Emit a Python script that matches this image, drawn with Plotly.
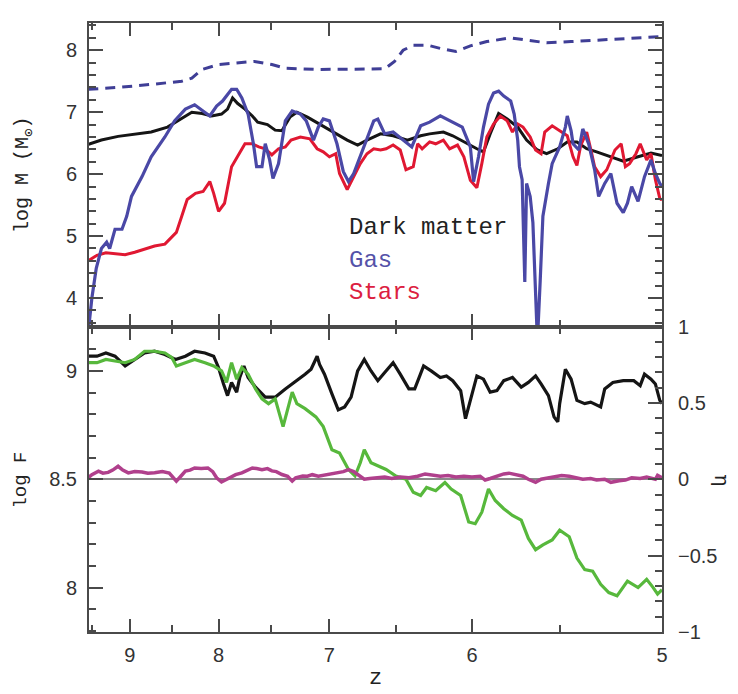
import plotly.graph_objects as go

# ---------------- data (redshift z, values) ----------------
# Upper panel: log of the enclosed mass
dm_z = [9.55, 9.37, 9.15, 8.94, 8.74, 8.55, 8.43, 8.28, 8.17, 8.07, 7.97, 7.91, 7.86, 7.81, 7.74,
        7.67, 7.62, 7.53, 7.46, 7.40, 7.33, 7.27, 7.18, 7.08, 6.97, 6.86, 6.78, 6.71, 6.61, 6.52,
        6.42, 6.33, 6.27, 6.18, 6.12, 6.03, 5.97, 5.93, 5.89, 5.84, 5.79, 5.73, 5.68, 5.62, 5.57,
        5.51, 5.46, 5.41, 5.36, 5.31, 5.24, 5.18, 5.11, 5.05, 5.00]
dm_logm = [6.48, 6.55, 6.61, 6.64, 6.68, 6.76, 6.86, 7.00, 6.98, 6.94, 6.97, 7.05, 7.23, 7.14, 7.05,
           6.94, 6.84, 6.80, 6.71, 6.70, 6.92, 7.00, 6.92, 6.81, 6.68, 6.55, 6.47, 6.55, 6.65, 6.62,
           6.55, 6.62, 6.65, 6.68, 6.62, 6.49, 6.41, 6.36, 6.65, 6.98, 6.89, 6.76, 6.55, 6.39, 6.33,
           6.41, 6.52, 6.52, 6.41, 6.36, 6.28, 6.21, 6.28, 6.34, 6.30]

gas_z = [9.56, 9.55, 9.50, 9.44, 9.37, 9.30, 9.26, 9.19, 9.10, 9.04, 8.98, 8.85, 8.74, 8.58, 8.47,
         8.35, 8.25, 8.16, 8.09, 8.02, 7.96, 7.87, 7.82, 7.77, 7.71, 7.66, 7.63, 7.58, 7.55, 7.51,
         7.48, 7.43, 7.37, 7.31, 7.24, 7.19, 7.13, 7.09, 7.05, 7.00, 6.94, 6.89, 6.85, 6.81, 6.76,
         6.71, 6.66, 6.63, 6.58, 6.52, 6.45, 6.39, 6.33, 6.27, 6.20, 6.14, 6.06, 6.01, 5.99, 5.96,
         5.93, 5.90, 5.87, 5.84, 5.81, 5.77, 5.75, 5.73, 5.72, 5.705, 5.69, 5.68, 5.66, 5.645, 5.63,
         5.62, 5.605, 5.59, 5.56, 5.54, 5.50, 5.47, 5.46, 5.44, 5.43, 5.40, 5.38, 5.35, 5.32, 5.30,
         5.27, 5.24, 5.21, 5.18, 5.16, 5.14, 5.11, 5.08, 5.05, 5.03, 5.01, 5.00]
gas_logm = [3.30, 3.45, 4.00, 4.48, 4.80, 4.90, 4.80, 5.11, 5.11, 5.32, 5.64, 5.96, 6.28, 6.60, 6.86,
            7.05, 7.12, 7.02, 6.94, 7.10, 7.18, 7.37, 7.37, 7.23, 6.97, 6.49, 6.12, 6.12, 6.49, 6.23,
            5.93, 6.17, 6.86, 7.02, 6.97, 6.86, 6.55, 6.76, 6.89, 6.86, 6.49, 6.04, 5.88, 6.01, 6.28,
            6.55, 6.86, 6.89, 6.65, 6.68, 6.55, 6.44, 6.78, 6.84, 6.94, 6.86, 6.76, 6.44, 5.88, 6.28,
            6.76, 7.13, 7.31, 7.34, 7.26, 7.18, 6.97, 6.55, 6.12, 5.91, 4.26, 5.85, 5.64, 5.22, 4.05,
            3.30, 4.26, 5.32, 5.85, 6.17, 6.44, 6.76, 6.94, 6.70, 6.49, 6.39, 6.73, 6.49, 6.07, 5.64,
            5.85, 6.01, 5.53, 5.38, 5.53, 5.80, 5.56, 5.96, 6.23, 6.01, 5.85, 5.80]

gas_out_z = [9.55, 9.15, 8.73, 8.39, 8.28, 8.17, 8.00, 7.84, 7.65, 7.49, 7.37, 7.08, 6.69, 6.58,
             6.51, 6.45, 6.38, 6.28, 6.20, 6.10, 6.01, 5.91, 5.77, 5.66, 5.57, 5.44, 5.27, 5.11, 5.00]
gas_out_logm = [7.37, 7.40, 7.45, 7.50, 7.55, 7.69, 7.77, 7.79, 7.82, 7.77, 7.71, 7.69, 7.69, 7.70,
                7.82, 8.00, 8.08, 8.08, 8.03, 7.98, 8.07, 8.14, 8.20, 8.15, 8.12, 8.14, 8.17, 8.20, 8.22]

star_z = [9.55, 9.43, 9.31, 9.19, 9.06, 8.94, 8.82, 8.70, 8.58, 8.50, 8.45, 8.39, 8.33, 8.24, 8.16,
          8.09, 8.05, 8.00, 7.94, 7.87, 7.80, 7.74, 7.67, 7.61, 7.55, 7.49, 7.43, 7.37, 7.32, 7.24,
          7.16, 7.10, 7.05, 7.00, 6.95, 6.92, 6.86, 6.81, 6.76, 6.71, 6.66, 6.61, 6.57, 6.52, 6.47,
          6.43, 6.38, 6.35, 6.32, 6.27, 6.23, 6.18, 6.14, 6.09, 6.05, 6.01, 5.97, 5.94, 5.91, 5.87,
          5.83, 5.79, 5.76, 5.73, 5.70, 5.66, 5.63, 5.60, 5.58, 5.54, 5.50, 5.46, 5.43, 5.41, 5.39,
          5.36, 5.34, 5.32, 5.29, 5.26, 5.22, 5.19, 5.17, 5.15, 5.12, 5.10, 5.07, 5.05, 5.03, 5.01, 5.00]
star_logm = [4.60, 4.69, 4.73, 4.71, 4.70, 4.74, 4.79, 4.84, 4.87, 4.98, 5.06, 5.32, 5.59, 5.69, 5.72,
             5.88, 5.69, 5.40, 5.53, 6.12, 6.33, 6.49, 6.49, 6.44, 6.41, 6.31, 6.41, 6.44, 6.55, 6.60,
             6.57, 6.41, 6.36, 6.28, 6.33, 6.01, 5.75, 5.96, 6.17, 6.33, 6.41, 6.39, 6.41, 6.47, 6.39,
             6.07, 6.12, 6.49, 6.41, 6.52, 6.49, 6.55, 6.41, 6.47, 6.28, 5.90, 5.78, 6.17, 6.60, 6.81,
             6.94, 6.86, 6.68, 6.81, 6.76, 6.60, 6.39, 6.33, 6.68, 6.78, 6.70, 6.62, 6.28, 6.14, 6.47,
             6.68, 6.41, 6.12, 5.96, 6.07, 6.39, 6.49, 6.12, 6.17, 6.33, 6.49, 6.23, 6.33, 5.91, 5.61, 5.58]

# Lower panel: log F (left axis) and eta (right axis)
f1_z = [9.55, 9.43, 9.31, 9.19, 9.06, 8.94, 8.82, 8.70, 8.58, 8.46, 8.35, 8.25, 8.14, 8.05, 8.00,
        7.95, 7.91, 7.87, 7.82, 7.79, 7.75, 7.71, 7.64, 7.55, 7.46, 7.37, 7.29, 7.20, 7.15, 7.10,
        7.08, 7.04, 6.98, 6.93, 6.88, 6.83, 6.78, 6.73, 6.68, 6.63, 6.58, 6.52, 6.47, 6.41, 6.37,
        6.31, 6.26, 6.20, 6.16, 6.12, 6.07, 6.04, 6.01, 5.97, 5.93, 5.89, 5.85, 5.81, 5.76, 5.71,
        5.67, 5.63, 5.60, 5.56, 5.53, 5.51, 5.50, 5.47, 5.44, 5.41, 5.37, 5.34, 5.29, 5.27, 5.23,
        5.18, 5.13, 5.10, 5.08, 5.05, 5.03, 5.01, 5.00]
f1_logf = [9.068, 9.068, 9.083, 9.068, 9.023, 9.053, 9.083, 9.091, 9.076, 9.053, 9.068, 9.091, 9.083,
           9.068, 9.015, 8.940, 8.886, 8.947, 8.902, 8.970, 9.023, 8.970, 8.925, 8.879, 8.879, 8.917,
           8.947, 8.985, 9.008, 9.068, 9.030, 8.985, 8.894, 8.820, 8.834, 8.879, 9.000, 9.053, 9.000,
           8.955, 8.993, 9.038, 8.985, 8.917, 8.917, 9.023, 9.000, 8.970, 8.977, 8.955, 8.909, 8.780,
           8.864, 8.977, 8.962, 8.902, 8.909, 8.955, 8.970, 8.925, 8.947, 8.977, 8.940, 8.886, 8.788,
           8.765, 8.849, 9.008, 8.962, 8.864, 8.849, 8.856, 8.834, 8.917, 8.947, 8.955, 8.955, 8.932,
           8.985, 8.962, 8.940, 8.864, 8.850]

f2_z = [9.55, 9.43, 9.31, 9.19, 9.06, 8.94, 8.82, 8.70, 8.58, 8.50, 8.45, 8.35, 8.25, 8.14, 8.05,
        7.97, 7.92, 7.87, 7.82, 7.77, 7.71, 7.64, 7.58, 7.52, 7.46, 7.39, 7.34, 7.31, 7.27, 7.20,
        7.11, 7.05, 6.98, 6.92, 6.85, 6.80, 6.76, 6.73, 6.68, 6.63, 6.57, 6.50, 6.43, 6.38, 6.33,
        6.29, 6.23, 6.17, 6.13, 6.07, 6.02, 5.98, 5.94, 5.90, 5.86, 5.81, 5.76, 5.71, 5.67, 5.63,
        5.59, 5.54, 5.50, 5.45, 5.41, 5.37, 5.33, 5.29, 5.25, 5.21, 5.16, 5.11, 5.07, 5.04, 5.02, 5.00]
f2_logf = [9.038, 9.038, 9.053, 9.045, 9.038, 9.053, 9.091, 9.091, 9.083, 9.061, 9.023, 9.038, 9.053,
           9.038, 9.023, 9.000, 8.947, 9.038, 8.962, 9.015, 8.985, 8.917, 8.871, 8.849, 8.871, 8.743,
           8.834, 8.902, 8.849, 8.826, 8.788, 8.743, 8.636, 8.621, 8.545, 8.515, 8.576, 8.636, 8.576,
           8.561, 8.545, 8.515, 8.500, 8.440, 8.425, 8.462, 8.447, 8.485, 8.455, 8.425, 8.303, 8.295,
           8.348, 8.455, 8.402, 8.364, 8.333, 8.311, 8.227, 8.175, 8.197, 8.220, 8.265, 8.235, 8.136,
           8.083, 8.076, 8.015, 7.977, 7.962, 8.030, 8.000, 8.038, 8.000, 7.970, 7.990]

eta_z = [9.55, 9.50, 9.41, 9.35, 9.28, 9.22, 9.15, 9.09, 9.02, 8.94, 8.85, 8.78, 8.70, 8.61, 8.53,
         8.45, 8.40, 8.35, 8.30, 8.25, 8.18, 8.11, 8.06, 8.02, 7.97, 7.93, 7.87, 7.83, 7.77, 7.72,
         7.67, 7.63, 7.58, 7.53, 7.49, 7.45, 7.40, 7.35, 7.31, 7.28, 7.22, 7.18, 7.14, 7.09, 7.05,
         7.01, 6.97, 6.93, 6.89, 6.85, 6.81, 6.78, 6.73, 6.69, 6.63, 6.58, 6.53, 6.47, 6.41, 6.35,
         6.30, 6.25, 6.20, 6.15, 6.10, 6.05, 6.00, 5.95, 5.92, 5.89, 5.85, 5.81, 5.78, 5.74, 5.70,
         5.67, 5.63, 5.60, 5.56, 5.52, 5.49, 5.45, 5.41, 5.38, 5.34, 5.31, 5.27, 5.24, 5.20, 5.17,
         5.14, 5.10, 5.07, 5.03, 5.02, 5.00]
eta_val = [0.010, 0.030, 0.053, 0.040, 0.045, 0.060, 0.085, 0.060, 0.042, 0.050, 0.048, 0.040, 0.042,
           0.050, 0.040, -0.012, 0.020, 0.053, 0.060, 0.074, 0.070, 0.074, 0.050, 0.010, -0.018, -0.005,
           0.016, 0.030, 0.042, 0.060, 0.074, 0.070, 0.063, 0.070, 0.055, 0.050, 0.031, 0.020, -0.012,
           0.010, 0.021, 0.020, 0.030, 0.020, 0.025, 0.030, 0.035, 0.042, 0.050, 0.063, 0.050, 0.031,
           0.000, 0.005, 0.010, 0.015, 0.005, 0.015, 0.010, 0.020, 0.035, 0.025, 0.020, 0.025, 0.015,
           0.020, 0.015, 0.020, -0.005, 0.005, 0.020, 0.035, 0.040, 0.030, 0.020, 0.000, -0.020, 0.000,
           0.010, 0.020, 0.025, 0.020, 0.010, 0.000, 0.005, -0.005, 0.000, -0.020, -0.010, -0.005,
           0.010, 0.005, 0.015, 0.000, 0.025, 0.010]

# Axis tick labels
z_major = [9, 8, 7, 6, 5]
z_minor = [9.5, 8.5, 7.5, 6.5, 5.5]
z_left, z_right = 9.54, 5.0


def scale_factor(zs):
    """The horizontal axis is linear in the expansion factor a = 1/(1+z)."""
    return [1.0 / (1.0 + z) for z in zs]


C_DM = "#151515"
C_GAS = "#4a48a6"
C_GAS_OUT = "#3f3e96"
C_STAR = "#e01832"
C_GREEN = "#57b83c"
C_MAG = "#b0408c"
AX = "#4a4a4a"
TICK_FONT = dict(family="Liberation Sans, Arial, sans-serif", size=20, color="#333333")
LABEL_FAMILY = "Liberation Mono, DejaVu Sans Mono, monospace"

fig = go.Figure()

fig.add_trace(go.Scatter(x=scale_factor(gas_out_z), y=gas_out_logm, mode="lines",
                         line=dict(color=C_GAS_OUT, width=3, dash="10px,7px"),
                         xaxis="x", yaxis="y", showlegend=False))
fig.add_trace(go.Scatter(x=scale_factor(dm_z), y=dm_logm, mode="lines",
                         line=dict(color=C_DM, width=3), xaxis="x", yaxis="y", showlegend=False))
fig.add_trace(go.Scatter(x=scale_factor(star_z), y=star_logm, mode="lines",
                         line=dict(color=C_STAR, width=3), xaxis="x", yaxis="y", showlegend=False))
fig.add_trace(go.Scatter(x=scale_factor(gas_z), y=gas_logm, mode="lines",
                         line=dict(color=C_GAS, width=3.2), xaxis="x", yaxis="y", showlegend=False))

fig.add_trace(go.Scatter(x=scale_factor(eta_z), y=eta_val, mode="lines",
                         line=dict(color=C_MAG, width=3.5), xaxis="x2", yaxis="y3", showlegend=False))
fig.add_trace(go.Scatter(x=scale_factor(f1_z), y=f1_logf, mode="lines",
                         line=dict(color=C_DM, width=3.2), xaxis="x2", yaxis="y2", showlegend=False))
fig.add_trace(go.Scatter(x=scale_factor(f2_z), y=f2_logf, mode="lines",
                         line=dict(color=C_GREEN, width=3.2), xaxis="x2", yaxis="y2", showlegend=False))

split = 0.5016
xrange_a = [1.0 / (1.0 + z_left), 1.0 / (1.0 + z_right)]
x_common = dict(range=xrange_a, tickmode="array", tickvals=scale_factor(z_major),
                ticktext=[str(z) for z in z_major], ticks="inside", ticklen=13, tickwidth=1.5,
                tickcolor=AX, showline=True, linecolor=AX, linewidth=2, mirror="ticks",
                showgrid=False, zeroline=False, tickfont=TICK_FONT,
                minor=dict(tickmode="array", tickvals=scale_factor(z_minor), ticks="inside",
                           ticklen=7, tickwidth=1.5, tickcolor=AX))

fig.update_layout(
    width=738, height=694,
    margin=dict(l=89, r=76, t=14, b=62),
    paper_bgcolor="white", plot_bgcolor="white",
    xaxis=dict(**x_common, anchor="y", domain=[0, 1], showticklabels=False),
    xaxis2=dict(**x_common, anchor="y2", domain=[0, 1], matches="x", showticklabels=True,
                ticklabelstandoff=4),
    yaxis=dict(domain=[split, 1], range=[3.54, 8.44], tickmode="linear", tick0=0, dtick=1,
               ticks="inside", ticklen=14, tickwidth=1.5, tickcolor=AX, showline=True,
               linecolor=AX, linewidth=2, mirror="ticks", showgrid=False, zeroline=False,
               tickfont=TICK_FONT, ticklabelstandoff=6, anchor="x",
               minor=dict(dtick=0.2, ticks="inside", ticklen=7, tickwidth=1.5, tickcolor=AX)),
    yaxis2=dict(domain=[0, split], range=[7.795, 9.205], tickmode="array",
                tickvals=[8, 8.5, 9], ticktext=["8", "8.5", "9"],
                ticks="inside", ticklen=14, tickwidth=1.5, tickcolor=AX, showline=True,
                linecolor=AX, linewidth=2, mirror=False, showgrid=False, zeroline=False,
                tickfont=TICK_FONT, ticklabelstandoff=6, anchor="x2",
                minor=dict(tickmode="linear", tick0=0, dtick=0.1, ticks="inside", ticklen=7,
                           tickwidth=1.5, tickcolor=AX)),
    yaxis3=dict(overlaying="y2", side="right", anchor="x2", range=[-1, 1], tickmode="array",
                tickvals=[-1, -0.5, 0, 0.5, 1], ticktext=["\u22121", "\u22120.5", "0", "0.5", "1"],
                ticks="inside", ticklen=14, tickwidth=1.5, tickcolor=AX, showline=True,
                linecolor=AX, linewidth=2, showgrid=False, zeroline=True,
                zerolinecolor="#8a8a8a", zerolinewidth=1.5,
                tickfont=TICK_FONT, ticklabelstandoff=10,
                minor=dict(tickmode="linear", tick0=0, dtick=0.1, ticks="inside", ticklen=7,
                           tickwidth=1.5, tickcolor=AX)),
)

annotations = [
    dict(text="Dark matter", x=0.4503, y=0.665, xref="paper", yref="paper", xanchor="left",
         yanchor="middle", showarrow=False, font=dict(family=LABEL_FAMILY, size=24, color="#222222")),
    dict(text="Gas", x=0.4503, y=0.610, xref="paper", yref="paper", xanchor="left",
         yanchor="middle", showarrow=False, font=dict(family=LABEL_FAMILY, size=24, color="#5552a8")),
    dict(text="Stars", x=0.4503, y=0.557, xref="paper", yref="paper", xanchor="left",
         yanchor="middle", showarrow=False, font=dict(family=LABEL_FAMILY, size=24, color="#dc2040")),
    dict(text="log M (M<sub>\u2299</sub>)", x=-0.114, y=0.75, xref="paper", yref="paper",
         xanchor="center", yanchor="middle", textangle=-90, showarrow=False,
         font=dict(family=LABEL_FAMILY, size=20, color="#222222")),
    dict(text="log F", x=-0.119, y=0.25, xref="paper", yref="paper",
         xanchor="center", yanchor="middle", textangle=-90, showarrow=False,
         font=dict(family=LABEL_FAMILY, size=19, color="#222222")),
    dict(text="z", x=0.5, y=-0.0761, xref="paper", yref="paper", xanchor="center",
         yanchor="middle", showarrow=False,
         font=dict(family=LABEL_FAMILY, size=22, color="#222222")),
    dict(text="\u03b7", x=1.1047, y=0.249, xref="paper", yref="paper", xanchor="center",
         yanchor="middle", textangle=90, showarrow=False,
         font=dict(family="DejaVu Serif, serif", size=20, color="#222222")),
]
fig.update_layout(annotations=annotations)

fig.write_html("out.html")
